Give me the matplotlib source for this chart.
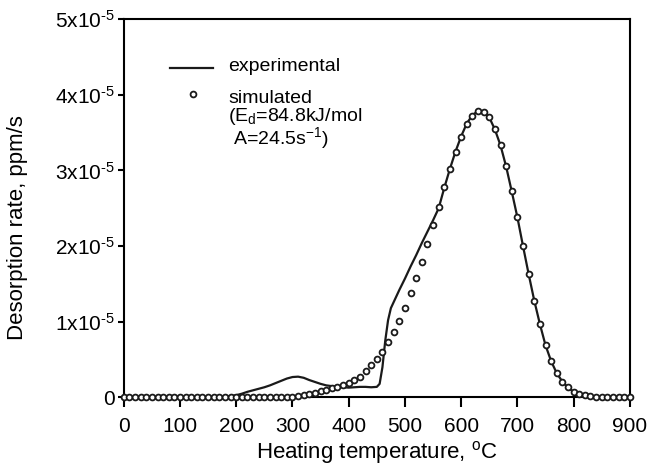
import matplotlib
matplotlib.use("Agg")
import matplotlib.pyplot as plt

plt.rcParams['font.family'] = ['Liberation Sans', 'DejaVu Sans']
plt.rcParams['mathtext.default'] = 'regular'

# desorption rate in units of 1e-5 ppm/s
exp_temp = [0, 170, 180, 190, 200, 210, 220, 230, 240, 250, 260, 270, 280, 290,
            300, 310, 320, 330, 340, 350, 360, 370, 380, 390, 400, 410, 420, 430,
            440, 450, 455, 460, 465, 470, 475, 480, 490, 500, 510, 520, 530, 540,
            550, 560, 570, 580, 590, 600, 610, 620, 630, 640, 650, 660, 670, 680,
            690, 700, 710, 720, 730, 740, 750, 760, 770, 780, 790, 800, 810, 820,
            830, 840, 850, 900]
exp_rate = [0, 0, 0.005, 0.015, 0.03, 0.05, 0.075, 0.095, 0.115, 0.135, 0.16, 0.19,
            0.22, 0.25, 0.27, 0.275, 0.26, 0.23, 0.205, 0.18, 0.16, 0.15, 0.14, 0.135,
            0.13, 0.135, 0.14, 0.14, 0.135, 0.14, 0.18, 0.4, 0.75, 1.02, 1.18, 1.26,
            1.42, 1.57, 1.73, 1.88, 2.04, 2.19, 2.34, 2.5, 2.77, 3.02, 3.25, 3.45,
            3.62, 3.73, 3.785, 3.77, 3.7, 3.54, 3.33, 3.05, 2.72, 2.38, 2.0, 1.63,
            1.28, 0.97, 0.69, 0.48, 0.32, 0.21, 0.13, 0.075, 0.045, 0.03, 0.015,
            0.005, 0, 0]

sim_temp = list(range(0, 910, 10))
sim_rate = [0] * 30 + [0.005, 0.02, 0.03, 0.045, 0.06, 0.08, 0.1, 0.12, 0.145, 0.17,
                       0.195, 0.225, 0.275, 0.345, 0.425, 0.513, 0.605, 0.737, 0.869,
                       1.015, 1.178, 1.376, 1.579, 1.79, 2.028, 2.279, 2.52, 2.777,
                       3.018, 3.243, 3.437, 3.613, 3.723, 3.78, 3.77, 3.71, 3.543,
                       3.335, 3.058, 2.728, 2.38, 2.0, 1.631, 1.279, 0.971, 0.694,
                       0.482, 0.32, 0.209, 0.135, 0.077, 0.046, 0.033, 0.015, 0.008,
                       0, 0, 0, 0, 0, 0]

yticks = [0, 1, 2, 3, 4, 5]
ytick_labels = ['0'] + ['%dx10$^{\u20105}$' % v for v in yticks[1:]]
xticks = list(range(0, 1000, 100))

fig = plt.figure(figsize=(6.48, 4.69), dpi=100)
ax = fig.add_axes([0.191, 0.1525, 0.781, 0.807])

ax.plot(exp_temp, exp_rate, color='#1a1a1a', lw=1.6, zorder=2)
ax.plot(sim_temp, sim_rate, ls='none', marker='o', ms=4.2, mfc='white',
        mec='#1a1a1a', mew=1.3, zorder=3, clip_on=False)

ax.set_xlim(0, 900)
ax.set_ylim(0, 5)
ax.set_xticks(xticks)
ax.set_yticks(yticks)
ax.set_yticklabels(ytick_labels)
for s in ax.spines.values():
    s.set_linewidth(1.5)
ax.tick_params(axis='x', direction='out', length=7, width=1.5, labelsize=15, pad=7)
ax.tick_params(axis='y', direction='out', length=4.5, width=1.5, labelsize=15, pad=2)

ax.set_xlabel('Heating temperature, $^{o}$C', fontsize=16, labelpad=2)
ax.set_ylabel('Desorption rate, ppm/s', fontsize=16)
ax.yaxis.set_label_coords(-0.19, 0.45)

# legend drawn by hand
ax.plot([0.091, 0.176], [0.871, 0.871], color='#1a1a1a', lw=1.6,
        transform=ax.transAxes)
ax.text(0.206, 0.874, 'experimental', transform=ax.transAxes,
        fontsize=14, va='center')
ax.plot([0.136], [0.801], ls='none', marker='o', ms=4.2, mfc='white',
        mec='#1a1a1a', mew=1.3, transform=ax.transAxes)
ax.text(0.206, 0.812, 'simulated\n(E$_d$=84.8kJ/mol\n A=24.5s$^{-1}$)',
        transform=ax.transAxes, fontsize=14, va='top', linespacing=0.92)

fig.savefig('out.png', dpi=100)
